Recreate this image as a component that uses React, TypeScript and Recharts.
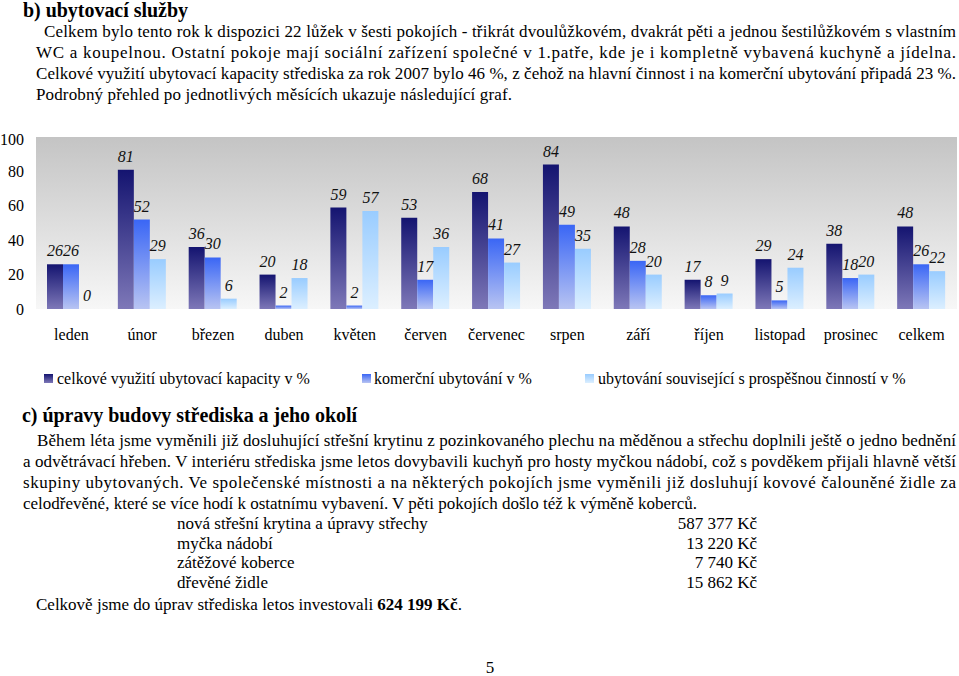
import React from 'react';
import { BarChart, Bar, XAxis, YAxis, CartesianGrid, LabelList, Legend } from 'recharts';

const months = ['leden', 'únor', 'březen', 'duben', 'květen', 'červen', 'červenec', 'srpen', 'září', 'říjen', 'listopad', 'prosinec', 'celkem'];
const totalUse = [26, 81, 36, 20, 59, 53, 68, 84, 48, 17, 29, 38, 48];
const commercial = [26, 52, 30, 2, 2, 17, 41, 49, 28, 8, 5, 18, 26];
const publicBenefit = [0, 29, 6, 18, 57, 36, 27, 35, 20, 9, 24, 20, 22];
const yTicks = [0, 20, 40, 60, 80, 100];
const seriesNames = [
  'celkové využití ubytovací kapacity v %',
  'komerční ubytování v %',
  'ubytování související s prospěšnou činností v %',
];

const data = months.map((m, i) => ({
  month: m,
  total: totalUse[i],
  commercial: commercial[i],
  benefit: publicBenefit[i],
}));

const FONT = '"Liberation Serif", "Times New Roman", serif';

const T = ({ x, y, w, size = 17, bold = false, anchor = 'start', children }: any) => (
  <text
    x={x}
    y={y}
    fontSize={size}
    fontWeight={bold ? 700 : 400}
    fontFamily={FONT}
    textAnchor={anchor}
    fill="#000"
    {...(w ? { textLength: w, lengthAdjust: 'spacing' } : {})}
  >
    {children}
  </text>
);

const legendItems = [
  { x: 44, tx: 57 },
  { x: 362, tx: 374 },
  { x: 585, tx: 598 },
];
const legendTop = ['#141470', '#3a66f5', '#99ccff'];
const legendBottom = ['#7e78b8', '#b8c4f2', '#dcefff'];

const LegendContent = () => (
  <div style={{ position: 'relative', width: 959, height: 30, fontFamily: FONT, fontSize: 16 }}>
    {legendItems.map((it, i) => (
      <React.Fragment key={i}>
        <svg style={{ position: 'absolute', left: it.x, top: 9 }} width={9} height={9}>
          <defs>
            <linearGradient id={`lgi${i}`} x1="0" y1="0" x2="0" y2="1">
              <stop offset="0%" stopColor={legendTop[i]} />
              <stop offset="100%" stopColor={legendBottom[i]} />
            </linearGradient>
          </defs>
          <rect width={9} height={9} fill={`url(#lgi${i})`} />
        </svg>
        <span style={{ position: 'absolute', left: it.tx, top: 4, lineHeight: '20px', whiteSpace: 'nowrap', color: '#000' }}>
          {seriesNames[i]}
        </span>
      </React.Fragment>
    ))}
  </div>
);

const renderValueLabel = (props: any) => {
  const { x, y, width, height, value } = props;
  if (value === undefined || value === null) return null;
  const top = Math.min(Number(y), Number(y) + Number(height || 0));
  return (
    <text
      x={Number(x) + Number(width) / 2}
      y={top - 8}
      textAnchor="middle"
      fontStyle="italic"
      fontFamily={FONT}
      fontSize={16}
      fill="#111"
    >
      {value}
    </text>
  );
};

export default function App() {
  return (
    <div style={{ position: 'absolute', left: 0, top: 0, width: 959, height: 676, background: '#fff', overflow: 'hidden' }}>
      <svg style={{ position: 'absolute', left: 0, top: 0 }} width={959} height={676}>
        <T x={23} y={17} size={20} bold w={165}>b) ubytovací služby</T>
        <T x={44} y={37} w={912}>Celkem bylo tento rok k dispozici 22 lůžek v šesti pokojích - třikrát dvoulůžkovém, dvakrát pěti a jednou šestilůžkovém s vlastním</T>
        <T x={36} y={58} w={920}>WC a koupelnou. Ostatní pokoje mají sociální zařízení společné v 1.patře, kde je i kompletně vybavená kuchyně a jídelna.</T>
        <T x={36} y={79} w={920}>Celkové využití ubytovací kapacity střediska za rok 2007 bylo 46 %, z čehož na hlavní činnost i  na komerční ubytování připadá 23 %.</T>
        <T x={36} y={100} w={476}>Podrobný přehled po jednotlivých měsících ukazuje následující graf.</T>

        <T x={22} y={422} size={20} bold w={335}>c) úpravy budovy střediska a jeho okolí</T>
        <T x={37} y={446} w={919}>Během léta jsme vyměnili již dosluhující střešní krytinu z pozinkovaného plechu na měděnou a střechu doplnili ještě o jedno bednění</T>
        <T x={23} y={467} w={933}>a odvětrávací hřeben. V interiéru střediska jsme letos dovybavili  kuchyň pro hosty myčkou nádobí, což s povděkem přijali hlavně větší</T>
        <T x={23} y={488} w={933}>skupiny ubytovaných. Ve společenské místnosti a na některých pokojích jsme vyměnili již dosluhují kovové čalouněné židle za</T>
        <T x={23} y={509} w={674}>celodřevěné, které se více hodí k ostatnímu vybavení. V pěti pokojích došlo též k výměně koberců.</T>

        <T x={177} y={529}>nová střešní krytina a úpravy střechy</T>
        <T x={177} y={549}>myčka nádobí</T>
        <T x={177} y={568}>zátěžové koberce</T>
        <T x={177} y={588}>dřevěné židle</T>
        <T x={757} y={529} anchor="end">587 377 Kč</T>
        <T x={757} y={549} anchor="end">13 220 Kč</T>
        <T x={757} y={568} anchor="end">7 740 Kč</T>
        <T x={757} y={588} anchor="end">15 862 Kč</T>
        <text x={36} y={610} fontSize={17} fontFamily={FONT} fill="#000">
          Celkově jsme do úprav střediska letos investovali <tspan fontWeight={700}>624 199 Kč</tspan>.
        </text>
        <T x={490} y={673} anchor="middle">5</T>
      </svg>

      <div style={{ position: 'absolute', left: 0, top: 130 }}>
        <BarChart
          width={959}
          height={265}
          data={data}
          margin={{ top: 7, right: 2, left: 0, bottom: 0 }}
          barGap={0}
          barSize={16}
        >
          <defs>
            <linearGradient id="bg" x1="0" y1="0" x2="0" y2="1">
              <stop offset="0%" stopColor="#c4c4c4" />
              <stop offset="100%" stopColor="#f7f7f7" />
            </linearGradient>
            <linearGradient id="g1" x1="0" y1="0" x2="0" y2="1">
              <stop offset="0%" stopColor="#141470" />
              <stop offset="100%" stopColor="#7e78b8" />
            </linearGradient>
            <linearGradient id="g2" x1="0" y1="0" x2="0" y2="1">
              <stop offset="0%" stopColor="#3a66f5" />
              <stop offset="100%" stopColor="#b8c4f2" />
            </linearGradient>
            <linearGradient id="g3" x1="0" y1="0" x2="0" y2="1">
              <stop offset="0%" stopColor="#99ccff" />
              <stop offset="100%" stopColor="#dcefff" />
            </linearGradient>
          </defs>
          <CartesianGrid horizontal={false} vertical={false} fill="url(#bg)" stroke="none" />
          <XAxis
            dataKey="month"
            axisLine={false}
            tickLine={false}
            interval={0}
            height={56}
            tickMargin={14}
            tick={{ fontSize: 16, fontFamily: FONT, fill: '#000' }}
          />
          <YAxis
            domain={[0, 100]}
            ticks={yTicks}
            width={36}
            axisLine={false}
            tickLine={false}
            tickMargin={6}
            tick={{ fontSize: 16, fontFamily: FONT, fill: '#000' }}
          />
          <Legend verticalAlign="bottom" content={() => <LegendContent />} />
          <Bar dataKey="total" name={seriesNames[0]} fill="url(#g1)" isAnimationActive={false}>
            <LabelList dataKey="total" content={renderValueLabel} />
          </Bar>
          <Bar dataKey="commercial" name={seriesNames[1]} fill="url(#g2)" isAnimationActive={false}>
            <LabelList dataKey="commercial" content={renderValueLabel} />
          </Bar>
          <Bar dataKey="benefit" name={seriesNames[2]} fill="url(#g3)" minPointSize={0.01} isAnimationActive={false}>
            <LabelList dataKey="benefit" content={renderValueLabel} />
          </Bar>
        </BarChart>
      </div>
    </div>
  );
}
